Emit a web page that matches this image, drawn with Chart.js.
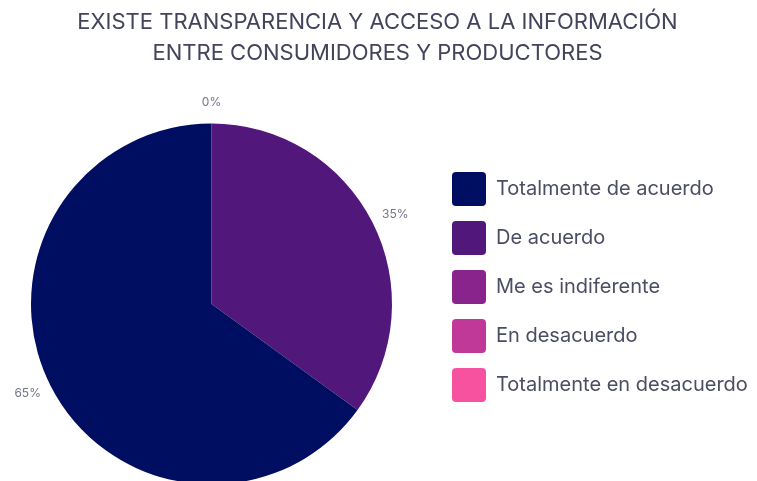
<!DOCTYPE html>
<html>
<head>
<meta charset="utf-8">
<script src="https://cdn.jsdelivr.net/npm/chart.js@4.4.1/dist/chart.umd.min.js"></script>
<style>
  html, body { margin: 0; padding: 0; background: #fff; width: 757px; height: 481px; overflow: hidden; }
  #chartWrap { position: absolute; left: -14px; top: 0; }
</style>
</head>
<body>
<div id="chartWrap"><canvas id="surveyChart" width="783" height="490"></canvas></div>
<script>
const chartTitle = ["EXISTE TRANSPARENCIA Y ACCESO A LA INFORMACIÓN", "ENTRE CONSUMIDORES Y PRODUCTORES"];
const answers = ["Totalmente de acuerdo", "De acuerdo", "Me es indiferente", "En desacuerdo", "Totalmente en desacuerdo"];
const percents = [65, 35, 0, 0, 0];
const answerColors = ["#000e61", "#52177a", "#88248c", "#c03898", "#f752a0"];

const FONT = "Inter, 'Open Sans', sans-serif";
const LEGEND_WIDTH = 332;
const LEGEND_TOP = 157;

// the original goes round counter-clockwise, so feed the slices reversed
// and flip the legend back
const drawLabels = answers.slice().reverse();
const drawValues = percents.slice().reverse();
const drawColors = answerColors.slice().reverse();

// fixed legend column width / top so the pie sits left of it like the original
const legendPlacement = {
  id: "legendPlacement",
  beforeLayout(chart) {
    const legend = chart.legend;
    if (!legend || legend.fitPatched) return;
    const fit = legend.fit;
    legend.fit = function() {
      fit.call(this);
      this.width = LEGEND_WIDTH;
    };
    legend.fitPatched = true;
  },
  afterLayout(chart) {
    if (chart.legend) chart.legend.top = LEGEND_TOP;
  }
};

// percentage labels outside each slice
const outsideLabels = {
  id: "outsideLabels",
  afterDatasetsDraw(chart) {
    const ctx = chart.ctx;
    const meta = chart.getDatasetMeta(0);
    const done = {};
    ctx.save();
    ctx.font = "12px " + FONT;
    ctx.fillStyle = "#72758a";
    ctx.textBaseline = "middle";
    ctx.textAlign = "center";
    meta.data.forEach((arc, i) => {
      const p = arc.getProps(["x", "y", "startAngle", "endAngle", "outerRadius"], true);
      const mid = (p.startAngle + p.endAngle) / 2;
      const text = drawValues[i] + "%";
      const key = text + mid.toFixed(3);
      if (done[key]) return;
      done[key] = true;
      const w = ctx.measureText(text).width;
      const h = 14;
      const r = p.outerRadius + 14;
      const cx = p.x + Math.cos(mid) * (r + w / 2 * Math.abs(Math.cos(mid)));
      const cy = p.y + Math.sin(mid) * (r + h / 2 * Math.abs(Math.sin(mid)));
      ctx.fillText(text, cx, cy);
    });
    ctx.restore();
  }
};

const context = document.getElementById("surveyChart").getContext("2d");
const baseLabels = Chart.overrides.doughnut.plugins.legend.labels.generateLabels;

new Chart(context, {
  type: "pie",
  data: {
    labels: drawLabels,
    datasets: [
      {
        data: drawValues,
        backgroundColor: drawColors,
        borderWidth: 0
      }
    ]
  },
  options: {
    responsive: false,
    animation: false,
    layout: { padding: { top: 0, bottom: 5.5, left: 0, right: 0 } },
    plugins: {
      title: {
        display: true,
        text: chartTitle,
        color: "#41445b",
        font: { family: FONT, size: 22, weight: "normal", lineHeight: 31 / 22 },
        padding: { top: 6.5, bottom: 55 }
      },
      legend: {
        position: "right",
        align: "start",
        reverse: true,
        labels: {
          color: "#4b4e63",
          font: { family: FONT, size: 20 },
          boxWidth: 34,
          boxHeight: 34,
          padding: 15,
          generateLabels(chart) {
            return baseLabels(chart).map(item => Object.assign(item, { borderRadius: 4 }));
          }
        }
      },
      tooltip: { enabled: false }
    }
  },
  plugins: [legendPlacement, outsideLabels]
});
</script>
</body>
</html>
